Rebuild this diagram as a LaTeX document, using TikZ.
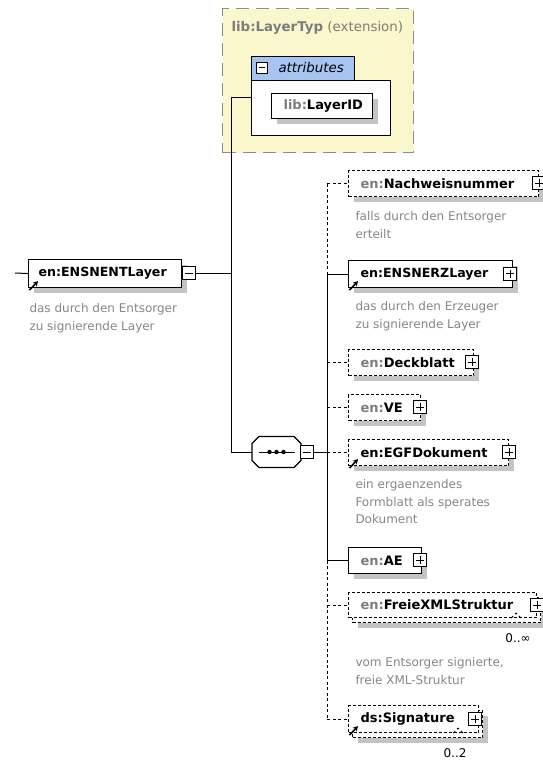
\documentclass[tikz,border=0pt]{standalone}
\usepackage{fontspec}
\setmainfont{DejaVu Sans}
\usetikzlibrary{shadows,arrows.meta}

\definecolor{extfill}{RGB}{250,247,204}
\definecolor{extline}{RGB}{140,140,140}
\definecolor{hdrfill}{RGB}{166,196,242}
\definecolor{pfx}{RGB}{125,125,125}
\definecolor{desctext}{RGB}{135,135,135}
\definecolor{shade}{RGB}{196,196,196}

% element label with a grey namespace prefix
\newcommand\pfxlab[2]{\mbox{\textcolor{pfx}{#1}#2}}

\begin{document}
\begin{tikzpicture}[x=1pt, y=-1pt, line width=1pt,
  elem/.style={draw, fill=white, anchor=north west, inner ysep=0pt, inner xsep=12pt,
    align=left, line width=1.1pt, font=\fontsize{13}{15}\selectfont\bfseries},
  opt/.style={elem, dash pattern=on 3pt off 2pt},
  shd/.style={drop shadow={shadow xshift=5pt, shadow yshift=-5pt, fill=shade, opacity=1}},
  tog/.style={draw, fill=white, minimum size=13pt, inner sep=0pt, line width=1pt},
  tplus/.style={tog, path picture={
    \draw[line width=1pt] ([xshift=2.5pt]path picture bounding box.west) -- ([xshift=-2.5pt]path picture bounding box.east)
      ([yshift=-2.5pt]path picture bounding box.north) -- ([yshift=2.5pt]path picture bounding box.south);}},
  tminus/.style={tog, path picture={
    \draw[line width=1pt] ([xshift=2.5pt]path picture bounding box.west) -- ([xshift=-2.5pt]path picture bounding box.east);}},
  desc/.style={anchor=north west, inner sep=0pt, align=left, text=desctext, font=\fontsize{12}{17.5}\selectfont},
  card/.style={inner sep=0pt, font=\fontsize{12}{14}\selectfont},
  cdash/.style={dash pattern=on 3pt off 2.5pt},
  refarrow/.style={line width=1.6pt, -{Stealth[length=5pt,width=5.5pt]}}
]
\useasboundingbox (0,0) rectangle (542,760);
\fill[white] (0,0) rectangle (542,760);

% ---- complex type extension with its attributes
\node[draw=extline, fill=extfill, dash pattern=on 13pt off 7pt, line width=1.3pt,
  anchor=north west, minimum width=191pt, minimum height=144pt, inner sep=0pt] (ext) at (222,8) {};
\node[anchor=west, inner sep=0pt, text=pfx, font=\fontsize{13.4}{16}\selectfont] (extT) at (231,28)
  {\textbf{lib:LayerTyp} (extension)};
\node[draw, fill=white, anchor=north west, minimum width=139pt, minimum height=55pt, inner sep=0pt] (attrB) at (251,80) {};
\node[draw, fill=hdrfill, anchor=north west, minimum width=103pt, minimum height=24pt, inner sep=0pt] (attrH) at (251,56) {};
\node[tminus, minimum size=11pt] (attrT) at (261.5,68) {};
\node[anchor=west, inner sep=0pt, font=\fontsize{13.4}{16}\selectfont\itshape] (attrL) at (278,68) {attributes};
\node[elem, shd, minimum height=25pt, text width=77pt] (lid) at (271,93) {\pfxlab{lib:}{LayerID}};

% ---- the element itself
\node[elem, shd, minimum height=28pt, text width=133pt, inner xsep=10pt,
  font=\fontsize{12.6}{15}\selectfont\bfseries] (main) at (28,259) {\mbox{en:ENSNENTLayer}};
\node[tminus] (mainT) at (189,273) {};
\node[desc] (mainD) at (29,303) {das durch den Entsorger\\zu signierende Layer};
\coordinate (entry) at (15,273);
\draw (entry) -- (main.west);

% ---- sequence compositor
\node[minimum width=48pt, minimum height=30pt, inner sep=0pt, anchor=west] (seq) at (252,452) {};
\fill[shade, shift={(5pt,-5pt)}]
  ([xshift=7pt]seq.north west) -- ([xshift=-7pt]seq.north east) -- ([yshift=-7pt]seq.north east)
  -- ([yshift=7pt]seq.south east) -- ([xshift=-7pt]seq.south east) -- ([xshift=7pt]seq.south west)
  -- ([yshift=7pt]seq.south west) -- ([yshift=-7pt]seq.north west) -- cycle;
\draw[fill=white, line width=1.1pt]
  ([xshift=7pt]seq.north west) -- ([xshift=-7pt]seq.north east) -- ([yshift=-7pt]seq.north east)
  -- ([yshift=7pt]seq.south east) -- ([xshift=-7pt]seq.south east) -- ([xshift=7pt]seq.south west)
  -- ([yshift=7pt]seq.south west) -- ([yshift=-7pt]seq.north west) -- cycle;
\draw ([xshift=7pt]seq.west) -- ([xshift=-6pt]seq.east);
\foreach \dx in {-7,0,7} \fill ([xshift=\dx pt]seq.center) circle (2.2pt);
\node[tminus] (seqT) at (306.5,452) {};

% ---- connectors of the element
\coordinate (jt) at (231,97);
\coordinate (jm) at (231,273);
\coordinate (js) at (231,452);
\draw (mainT.east) -- (jm);
\draw (jt) -- (js);
\draw (jt) -- (jt -| attrB.west);
\draw (js) -- (seq.west);

% ---- children of the sequence
\node[opt, shd, minimum height=26pt, text width=166pt] (nach) at (348,170) {\pfxlab{en:}{Nachweisnummer}};
\node[tplus] (nachT) at (539,183) {};
\node[desc] (nachD) at (355,211) {falls durch den Entsorger\\erteilt};

\node[elem, shd, minimum height=27pt, text width=140pt, font=\fontsize{12.6}{15}\selectfont\bfseries] (erz) at (348,260) {\mbox{en:ENSNERZLayer}};
\node[tplus] (erzT) at (510,273.5) {};
\node[desc] (erzD) at (355,301) {das durch den Erzeuger\\zu signierende Layer};

\node[opt, shd, minimum height=26pt, text width=101pt] (deck) at (348,349) {\pfxlab{en:}{Deckblatt}};
\node[tplus] (deckT) at (472,362) {};

\node[opt, shd, minimum height=26pt, text width=48pt] (ve) at (348,394) {\pfxlab{en:}{VE}};
\node[tplus] (veT) at (420,407) {};

\node[opt, shd, minimum height=26pt, text width=136pt] (egf) at (348,439) {\mbox{en:EGFDokument}};
\node[tplus] (egfT) at (509,452) {};
\node[desc] (egfD) at (355,479) {ein ergaenzendes\\Formblatt als sperates\\Dokument};

\node[elem, shd, minimum height=26pt, text width=49pt] (ae) at (348,547) {\pfxlab{en:}{AE}};
\node[tplus] (aeT) at (420,560) {};

\node[opt, shd, minimum height=25pt, minimum width=188pt, inner sep=0pt] (freieB) at (352,597) {};
\node[opt, minimum height=25pt, text width=164pt] (freie) at (348,592) {\pfxlab{en:}{FreieXMLStruktur}};
\node[tplus] (freieT) at (537,605) {};
\draw[line width=0.8pt, cdash] ([xshift=-26pt]freie.south east) -- ++(5pt,5pt) -- ++(5pt,-5pt);
\node[card] (freieN) at (518,638) {0..∞};
\node[desc] (freieD) at (355,657) {vom Entsorger signierte,\\freie XML-Struktur};

\node[opt, shd, minimum height=27pt, minimum width=130pt, inner sep=0pt] (sigB) at (352,710) {};
\node[opt, minimum height=27pt, text width=106pt] (sig) at (348,705) {\mbox{ds:Signature}};
\node[tplus] (sigT) at (475,719) {};
\draw[line width=0.8pt, cdash] ([xshift=-26pt]sig.south east) -- ++(5pt,5pt) -- ++(5pt,-5pt);
\node[card] (sigN) at (455,753) {0..2};

% reference markers on global elements
\foreach \n in {main,erz,egf,sig}
  \draw[refarrow] ([shift={(1.5pt,-2pt)}]\n.south west) -- ([shift={(10pt,7pt)}]\n.south west);

% ---- connectors of the sequence
\coordinate (vx) at (327,0);
\draw (seqT.east) -- (seqT.east -| vx);
\draw[cdash] (nach.west -| vx) -- (erz.west -| vx);
\draw (erz.west -| vx) -- (ae.west -| vx);
\draw[cdash] (ae.west -| vx) -- (sig.west -| vx);
\foreach \n in {nach,deck,ve,egf,freie,sig}
  \draw[cdash] (\n.west -| vx) -- (\n.west);
\foreach \n in {erz,ae}
  \draw (\n.west -| vx) -- (\n.west);
\end{tikzpicture}
\end{document}
